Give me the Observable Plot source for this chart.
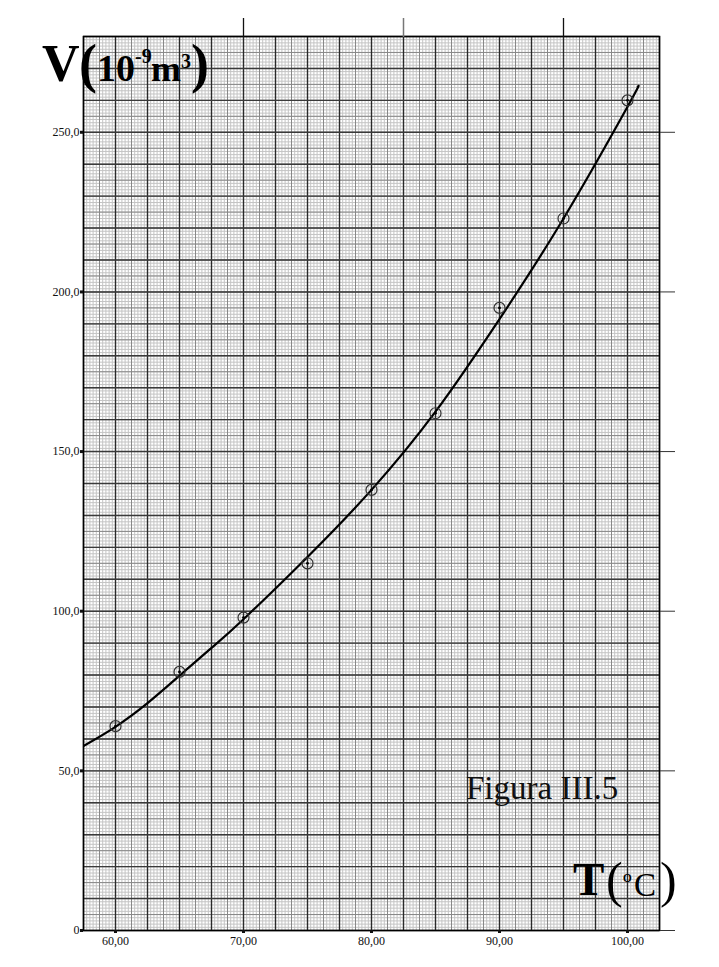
<!DOCTYPE html>
<html><head><meta charset="utf-8">
<script src="https://cdn.jsdelivr.net/npm/d3@7"></script>
<script src="https://cdn.jsdelivr.net/npm/@observablehq/plot@0.6"></script>
<style>
html,body{margin:0;padding:0;background:#fff;}
#chart svg{display:block;}
</style>
</head><body><div id="chart"></div>
<script>
// Measured data points (T in °C, V in 10^-9 m^3)
const temps = [60, 65, 70, 75, 80, 85, 90, 95, 100];
const volumes = [64, 81, 98, 115, 138, 162, 195, 223, 260];
// Fitted curve
const curveT = [57.5, 60, 62.5, 65, 67.5, 70, 75, 80, 85, 90, 95, 100, 100.8];
const curveV = [57.8, 63.8, 71.2, 79.8, 88.5, 97.5, 117, 138, 162.5, 191.5, 223, 258, 264.3];
// Tick values and labels
const xTicks = [60, 70, 80, 90, 100];
const xTickLabels = ["60,00", "70,00", "80,00", "90,00", "100,00"];
const yTicks = [0, 50, 100, 150, 200, 250];
const yTickLabels = ["0", "50,0", "100,0", "150,0", "200,0", "250,0"];
const topTicksDark = [70, 95];
const topTicksGray = [82.5];
// Graph-paper grid (x: fine 0.25, mid 1.25, major 2.5 ; y: fine 1, mid 5, major 10)
const xMin = 57.5, xMax = 102.5, yMin = 0, yMax = 280;
const fineX = d3.range(0, 181).map(i => xMin + i * 0.25);
const midX = d3.range(0, 36).map(i => xMin + i * 1.25);
const majorX = d3.range(0, 19).map(i => xMin + i * 2.5);
const fineY = d3.range(0, 281);
const midY = d3.range(0, 57).map(i => i * 5);
const majorY = d3.range(0, 29).map(i => i * 10);

const points = temps.map((t, i) => ({T: t, V: volumes[i]}));
const curve = curveT.map((t, i) => ({T: t, V: curveV[i]}));

const chart = Plot.plot({
  width: 719, height: 967,
  marginLeft: 83, marginRight: 60, marginTop: 36, marginBottom: 37,
  x: {domain: [xMin, xMax], label: null},
  y: {domain: [yMin, yMax], label: null},
  style: {fontFamily: "'Liberation Serif', 'Times New Roman', serif", fontSize: "12px", background: "#fff", overflow: "visible", color: "#111"},
  marks: [
    Plot.ruleX(fineX, {stroke: "#c4c4c4", strokeWidth: 1}),
    Plot.ruleY(fineY, {stroke: "#c4c4c4", strokeWidth: 1}),
    Plot.ruleX(midX, {stroke: "#888", strokeWidth: 1}),
    Plot.ruleY(midY, {stroke: "#888", strokeWidth: 1}),
    Plot.ruleX(majorX, {stroke: "#2a2a2a", strokeWidth: 1.4}),
    Plot.ruleY(majorY, {stroke: "#3a3a3a", strokeWidth: 1.4}),
    Plot.frame({stroke: "#000", strokeWidth: 1.5}),
    Plot.axisY(yTicks, {anchor: "left", tickSize: 3, strokeWidth: 3, tickPadding: 1,
      tickFormat: d => yTickLabels[yTicks.indexOf(d)]}),
    Plot.axisY(yTicks, {anchor: "right", tickSize: 15, strokeWidth: 1, stroke: "#333", tickFormat: () => ""}),
    Plot.axisX(xTicks, {anchor: "bottom", tickSize: 3, strokeWidth: 3, tickPadding: 3,
      tickFormat: d => xTickLabels[xTicks.indexOf(d)]}),
    Plot.axisX(topTicksDark, {anchor: "top", tickSize: 19, strokeWidth: 1.3, stroke: "#111", tickFormat: () => ""}),
    Plot.axisX(topTicksGray, {anchor: "top", tickSize: 19, strokeWidth: 1.5, stroke: "#777", tickFormat: () => ""}),
    Plot.line(curve, {x: "T", y: "V", curve: "natural", stroke: "#000", strokeWidth: 2.2, clip: true}),
    Plot.dot(points, {x: "T", y: "V", r: 5.5, stroke: "#333", strokeWidth: 1.2, fill: "none"}),
    Plot.dot(points, {x: "T", y: "V", r: 1.4, fill: "#000", stroke: "none"})
  ]
});
document.getElementById("chart").appendChild(chart);

const svg = d3.select(chart);
const serif = "'Liberation Serif', 'Times New Roman', serif";

// Y axis title: V(10^-9 m^3)
const vt = svg.append("text").attr("font-family", serif).attr("font-weight", "bold")
  .attr("fill", "#000").attr("text-anchor", "start");
vt.append("tspan").attr("x", 42).attr("y", 81).attr("font-size", 52).text("V");
vt.append("tspan").attr("x", 79).attr("y", 82).attr("font-size", 54).text("(");
vt.append("tspan").attr("x", 97).attr("y", 81).attr("font-size", 38).text("10");
vt.append("tspan").attr("x", 135).attr("y", 63).attr("font-size", 20).text("-9");
vt.append("tspan").attr("x", 151).attr("y", 81).attr("font-size", 36).text("m");
vt.append("tspan").attr("x", 181).attr("y", 68).attr("font-size", 20).text("3");
vt.append("tspan").attr("x", 191).attr("y", 82).attr("font-size", 54).text(")");

// X axis title: T(ºC)
const tt = svg.append("text").attr("font-family", serif).attr("fill", "#000").attr("text-anchor", "start");
tt.append("tspan").attr("x", 573).attr("y", 895).attr("font-size", 47).attr("font-weight", "bold").text("T");
tt.append("tspan").attr("x", 606).attr("y", 897).attr("font-size", 50).text("(");
tt.append("tspan").attr("x", 623).attr("y", 893).attr("font-size", 28).text("º");
tt.append("tspan").attr("x", 634).attr("y", 896).attr("font-size", 33).text("C");
tt.append("tspan").attr("x", 660).attr("y", 897).attr("font-size", 50).text(")");

// Figure caption
svg.append("text").attr("font-family", serif).attr("font-size", 33).attr("fill", "#111")
  .attr("text-anchor", "start").attr("x", 466).attr("y", 799).text("Figura III.5");
</script>
</body></html>
